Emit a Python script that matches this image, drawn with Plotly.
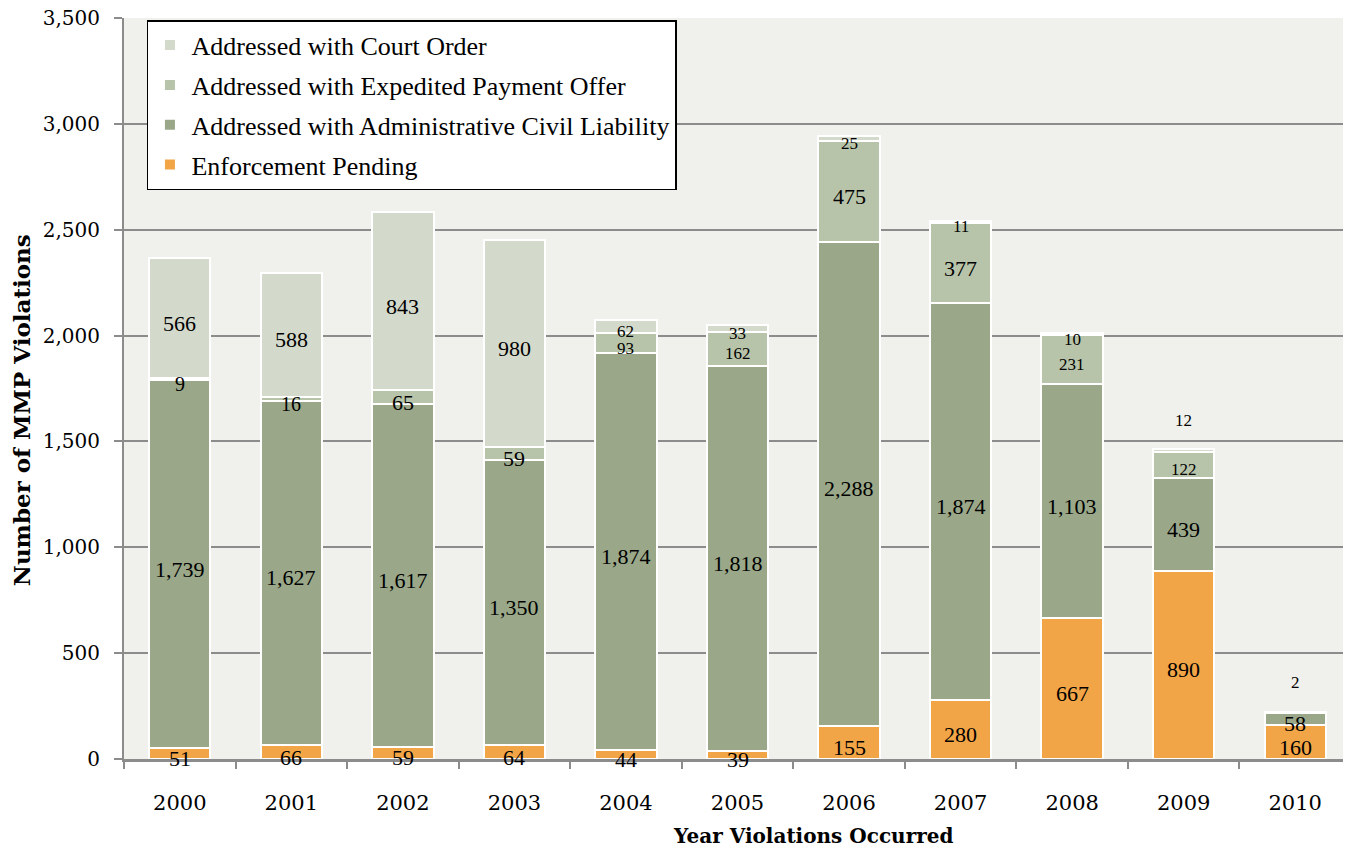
import plotly.graph_objects as go

years = ["2000", "2001", "2002", "2003", "2004", "2005", "2006", "2007", "2008", "2009", "2010"]
pending = [51, 66, 59, 64, 44, 39, 155, 280, 667, 890, 160]
acl = [1739, 1627, 1617, 1350, 1874, 1818, 2288, 1874, 1103, 439, 58]
epo = [9, 16, 65, 59, 93, 162, 475, 377, 231, 122, 2]
court = [566, 588, 843, 980, 62, 33, 25, 11, 10, 12, 0]

series = [
    ("Enforcement Pending", pending, "#F2A546"),
    ("Addressed with Administrative Civil Liability", acl, "#9AA889"),
    ("Addressed with Expedited Payment Offer", epo, "#B7C4A9"),
    ("Addressed with Court Order", court, "#D4DACB"),
]

FONT = "Liberation Serif"
TFONT = "DejaVu Serif"
fig = go.Figure()
for i, (name, vals, col) in enumerate(series):
    fig.add_trace(go.Bar(
        x=years, y=vals, name=name, legendgroup=name, legendrank=10 - i,
        marker=dict(color=col, line=dict(color="white", width=2)),
        hoverinfo="x+y+name",
    ))

annotations = []
base = [0] * len(years)
for si, (name, vals, col) in enumerate(series):
    for j, v in enumerate(vals):
        if v > 0:
            ys = -5
            size = 22
            if si >= 2 and v < 300 and j >= 4:
                size = 17
            if si >= 2 and j < 4 and v < 30:
                size = 20
            # labels for tiny top segments drawn above the bar
            if (si == 3 and j == 9) or (si == 2 and j == 10):
                ys = 30
            annotations.append(dict(
                x=j, y=base[j] + v / 2, text=f"{v:,}", showarrow=False,
                yshift=ys, font=dict(family=FONT, size=size, color="black"),
                xref="x", yref="y",
            ))
        base[j] += v

annotations.append(dict(
    x=0.5615, y=-0.104, xref="paper", yref="paper", text="<b>Year Violations Occurred</b>",
    showarrow=False, font=dict(family=TFONT, size=20, color="black"),
    xanchor="center", yanchor="middle",
))
annotations.append(dict(
    x=-0.083, y=0.471, xref="paper", yref="paper", text="<b>Number of MMP Violations</b>",
    showarrow=False, textangle=-90, font=dict(family=TFONT, size=23, color="black"),
    xanchor="center", yanchor="middle",
))

# the page body adds an 8px offset; size the figure to compensate
fig.update_layout(
    width=1343, height=840,
    barmode="stack", bargap=0.45,
    paper_bgcolor="white", plot_bgcolor="#F0F1EC",
    margin=dict(l=116, r=0, t=10, b=89),
    font=dict(family=FONT, size=20, color="black"),
    annotations=annotations,
    showlegend=True,
    legend=dict(
        x=0.0187, y=0.997, xanchor="left", yanchor="top",
        bgcolor="white", bordercolor="black", borderwidth=1.5,
        font=dict(family=FONT, size=26, color="black"),
        traceorder="grouped", tracegroupgap=3,
        itemwidth=33,
    ),
    xaxis=dict(
        type="category", range=[-0.5, len(years) - 0.5], showgrid=False,
        automargin=False,
        ticks="outside", tickson="boundaries",
        ticklen=7, tickcolor="#8C8C8C", tickwidth=2,
        showline=True, linecolor="#8C8C8C", linewidth=3,
        tickfont=dict(family=TFONT, size=21), ticklabelstandoff=23,
    ),
    yaxis=dict(
        range=[0, 3500], dtick=500, tickformat=",", showgrid=True,
        automargin=False, ticklabeloverflow="allow",
        gridcolor="#8C8C8C", gridwidth=2, zeroline=False,
        showline=True, linecolor="#8C8C8C", linewidth=2,
        ticks="outside", ticklen=8, tickcolor="#8C8C8C", tickwidth=2,
        tickfont=dict(family=TFONT, size=20), ticklabelstandoff=10,
    ),
)

fig.write_html("out.html")
